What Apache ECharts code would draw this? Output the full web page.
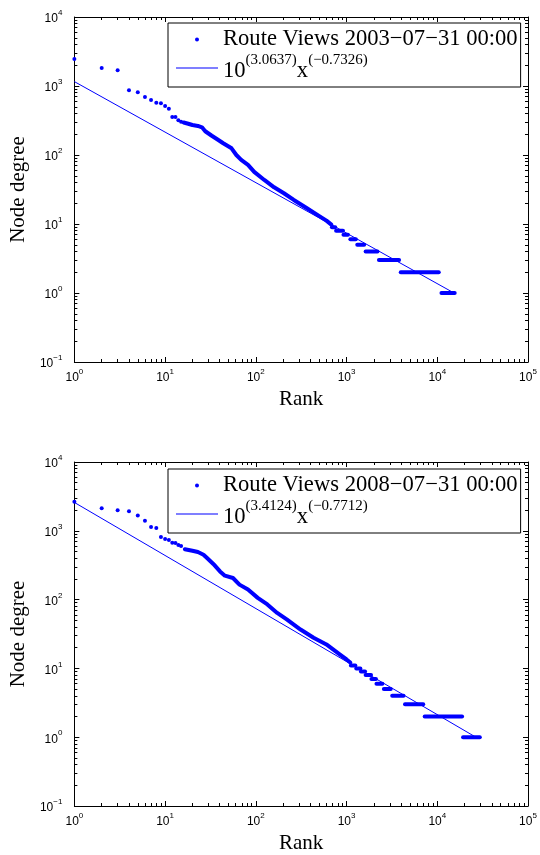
<!DOCTYPE html>
<html>
<head>
<meta charset="utf-8">
<script src="https://cdn.jsdelivr.net/npm/echarts@6/dist/echarts.min.js"></script>
<style>
  html, body { margin: 0; padding: 0; background: #fff; }
  #chart { width: 540px; height: 855px; }
</style>
</head>
<body>
<div id="chart"></div>
<script>
// ---- Route Views 2003-07-31 ----
// first ranks, separate dots
var headRank03 = [1, 2, 3, 4, 5, 6, 7, 8, 9, 10, 11, 12, 13, 14, 15];
var headDeg03 = [2460, 1820, 1690, 867, 811, 693, 627, 573, 561, 513, 469, 356, 356, 318, 304];
// dense part of the curve (rank, degree)
var bandRank03 = [16, 18, 20, 23, 25.5, 27.7, 32.7, 38.6, 43.7, 54, 61, 69, 82, 96, 124, 159, 204, 262, 366, 511, 600, 680];
var bandDeg03 = [296, 284, 272, 264, 252, 221, 190, 165, 148, 125, 100, 85, 72, 57, 43.5, 34, 27.9, 22.3, 16.9, 12.8, 11.2, 9.8];
// flat runs of equal degree: first rank, last rank, degree
var stepStart03 = [690, 767, 925, 1102, 1313, 1623, 2274, 3960, 11120];
var stepEnd03 = [750, 914, 1036, 1265, 1563, 2192, 3793, 10380, 15560];
var stepDeg03 = [9, 8, 7, 6, 5, 4, 3, 2, 1];
// fitted power law, end points
var fitRank03 = [1, 14900];
var fitDeg03 = [1158, 1.02];

// ---- Route Views 2008-07-31 ----
var headRank08 = [1, 2, 3, 4, 5, 6, 7, 8, 9, 10, 11, 12, 13, 14, 15];
var headDeg08 = [2650, 2133, 1995, 1930, 1667, 1396, 1132, 1095, 811, 759, 733, 670, 663, 621, 600];
var bandRank08 = [16.5, 20, 23, 26.5, 29, 34, 40.3, 45.6, 56, 66, 82, 105, 134, 172, 221, 311, 433, 600, 840, 1000, 1100];
var bandDeg08 = [540, 513, 491, 449, 402, 330, 257, 223, 206, 165, 140, 106, 85, 64, 51, 36.7, 27.9, 22.3, 16, 13.5, 12.2];
var stepStart08 = [1117, 1280, 1440, 1623, 1880, 2137, 2577, 3186, 4409, 7266, 19240];
var stepEnd08 = [1250, 1420, 1600, 1862, 2110, 2482, 3069, 4246, 7000, 18770, 29430];
var stepDeg08 = [11, 10, 9, 8, 7, 6, 5, 4, 3, 2, 1];
var fitRank08 = [1, 27000];
var fitDeg08 = [2584, 0.99];

var legendText = {
  rv03: 'Route Views 2003\u221207\u221231 00:00',
  fit03: '{n|10}{s|(3.0637)}{n|x}{s|(\u22120.7326)}',
  rv08: 'Route Views 2008\u221207\u221231 00:00',
  fit08: '{n|10}{s|(3.4124)}{n|x}{s|(\u22120.7712)}'
};

var blue = '#0000ff';
var serif = "'Liberation Serif', 'Times New Roman', serif";
var sans = "'Liberation Sans', Arial, sans-serif";
// legend icons drawn inside a 42x14 box (the moveTo corners fix the box)
var dotIcon = 'path://M0,0M42,14M19,7a2,2,0,1,0,4,0a2,2,0,1,0,-4,0Z';
var lineIcon = 'path://M0,0M42,14M0,6.5L42,6.5L42,7.5L0,7.5Z';

function zip(a, b) {
  return a.map(function (v, i) { return [v, b[i]]; });
}

function powLabel(v) {
  var e = Math.round(Math.log10(v));
  return '{b|10}{s|' + String(e).replace('-', '\u2212') + '}';
}

// minor tick places (2..9 in every decade), in log10 units
function minorLogs(from, to) {
  var out = [];
  for (var n = from; n < to; n++) {
    for (var k = 2; k <= 9; k++) out.push(n + Math.log10(k));
  }
  return out;
}

var labelRich = {
  b: { fontSize: 12, fontFamily: sans, color: '#000', lineHeight: 16, verticalAlign: 'bottom' },
  s: { fontSize: 8, fontFamily: sans, color: '#000', lineHeight: 10, verticalAlign: 'top' }
};

var grids = [
  { left: 67, top: 17, width: 461, height: 345 },
  { left: 67, top: 462, width: 461, height: 345 }
];

var xAxes = [];
var yAxes = [];
grids.forEach(function (g, i) {
  var line = { show: true, onZero: false, lineStyle: { color: '#000', width: 1 } };
  var noLine = { show: false, onZero: false };
  var major = { show: true, inside: true, length: 5, lineStyle: { color: '#000', width: 1 } };
  var minor = function (vals) {
    return { show: true, inside: true, length: 3, customValues: vals, lineStyle: { color: '#000', width: 1 } };
  };
  xAxes.push(
    {
      gridIndex: i, type: 'log', logBase: 10, min: 1, max: 100000, position: 'bottom',
      name: 'Rank', nameLocation: 'middle', nameGap: 27,
      nameTextStyle: { fontFamily: serif, fontSize: 21, color: '#000' },
      axisLine: line, axisTick: major, splitLine: { show: false },
      axisLabel: { margin: 6, formatter: powLabel, rich: labelRich }
    },
    {
      gridIndex: i, type: 'log', logBase: 10, min: 1, max: 100000, position: 'top',
      axisLine: line, axisTick: major, splitLine: { show: false }, axisLabel: { show: false }
    },
    {
      gridIndex: i, type: 'value', min: 0, max: 5, position: 'bottom',
      axisLine: noLine, axisTick: minor(minorLogs(0, 5)), splitLine: { show: false }, axisLabel: { show: false }
    },
    {
      gridIndex: i, type: 'value', min: 0, max: 5, position: 'top',
      axisLine: noLine, axisTick: minor(minorLogs(0, 5)), splitLine: { show: false }, axisLabel: { show: false }
    }
  );
  yAxes.push(
    {
      gridIndex: i, type: 'log', logBase: 10, min: 0.1, max: 10000, position: 'left',
      name: 'Node degree', nameLocation: 'middle', nameGap: 42,
      nameTextStyle: { fontFamily: serif, fontSize: 21, color: '#000' },
      axisLine: line, axisTick: major, splitLine: { show: false },
      axisLabel: { margin: 12, formatter: powLabel, rich: labelRich }
    },
    {
      gridIndex: i, type: 'log', logBase: 10, min: 0.1, max: 10000, position: 'right',
      axisLine: line, axisTick: major, splitLine: { show: false }, axisLabel: { show: false }
    },
    {
      gridIndex: i, type: 'value', min: -1, max: 4, position: 'left',
      axisLine: noLine, axisTick: minor(minorLogs(-1, 4)), splitLine: { show: false }, axisLabel: { show: false }
    },
    {
      gridIndex: i, type: 'value', min: -1, max: 4, position: 'right',
      axisLine: noLine, axisTick: minor(minorLogs(-1, 4)), splitLine: { show: false }, axisLabel: { show: false }
    }
  );
});

function plotSeries(idx, key, headR, headD, bandR, bandD, sStart, sEnd, sDeg, fitR, fitD) {
  var ax = { xAxisIndex: idx * 4, yAxisIndex: idx * 4 };
  var list = [];
  list.push(Object.assign({
    name: 'rv' + key, type: 'scatter', symbol: 'circle', symbolSize: 4,
    itemStyle: { color: blue, opacity: 1 }, data: zip(headR, headD), silent: true
  }, ax));
  list.push(Object.assign({
    name: 'band' + key, type: 'line', symbol: 'none', silent: true,
    lineStyle: { color: blue, width: 4, cap: 'round', join: 'round' },
    data: zip(bandR, bandD)
  }, ax));
  sDeg.forEach(function (d, i) {
    list.push(Object.assign({
      name: 'band' + key, type: 'line', symbol: 'none', silent: true,
      lineStyle: { color: blue, width: 4, cap: 'round' },
      data: [[sStart[i], d], [sEnd[i], d]]
    }, ax));
  });
  list.push(Object.assign({
    name: 'fit' + key, type: 'line', symbol: 'none', silent: true,
    lineStyle: { color: blue, width: 1 }, itemStyle: { color: blue },
    data: zip(fitR, fitD)
  }, ax));
  return list;
}

function makeLegend(key, top) {
  return {
    data: [{ name: 'rv' + key, icon: dotIcon }, { name: 'fit' + key, icon: lineIcon }],
    orient: 'vertical', left: 168, top: top,
    padding: [5, 3, 4, 8], itemGap: 2, itemWidth: 42, itemHeight: 14,
    borderColor: '#000', borderWidth: 1, backgroundColor: '#fff',
    selectedMode: false,
    itemStyle: { color: blue, opacity: 1, borderWidth: 0 },
    formatter: function (name) { return legendText[name]; },
    textStyle: {
      fontFamily: serif, fontSize: 22.6, color: '#000',
      rich: {
        n: { fontFamily: serif, fontSize: 22.6, color: '#000', lineHeight: 30, verticalAlign: 'bottom' },
        s: { fontFamily: serif, fontSize: 15, color: '#000', lineHeight: 18, verticalAlign: 'top' }
      }
    }
  };
}

var chart = echarts.init(document.getElementById('chart'));
chart.setOption({
  animation: false,
  backgroundColor: '#fff',
  grid: grids,
  xAxis: xAxes,
  yAxis: yAxes,
  legend: [makeLegend('03', 23), makeLegend('08', 469)],
  series: plotSeries(0, '03', headRank03, headDeg03, bandRank03, bandDeg03, stepStart03, stepEnd03, stepDeg03, fitRank03, fitDeg03)
    .concat(plotSeries(1, '08', headRank08, headDeg08, bandRank08, bandDeg08, stepStart08, stepEnd08, stepDeg08, fitRank08, fitDeg08))
});
</script>
</body>
</html>
